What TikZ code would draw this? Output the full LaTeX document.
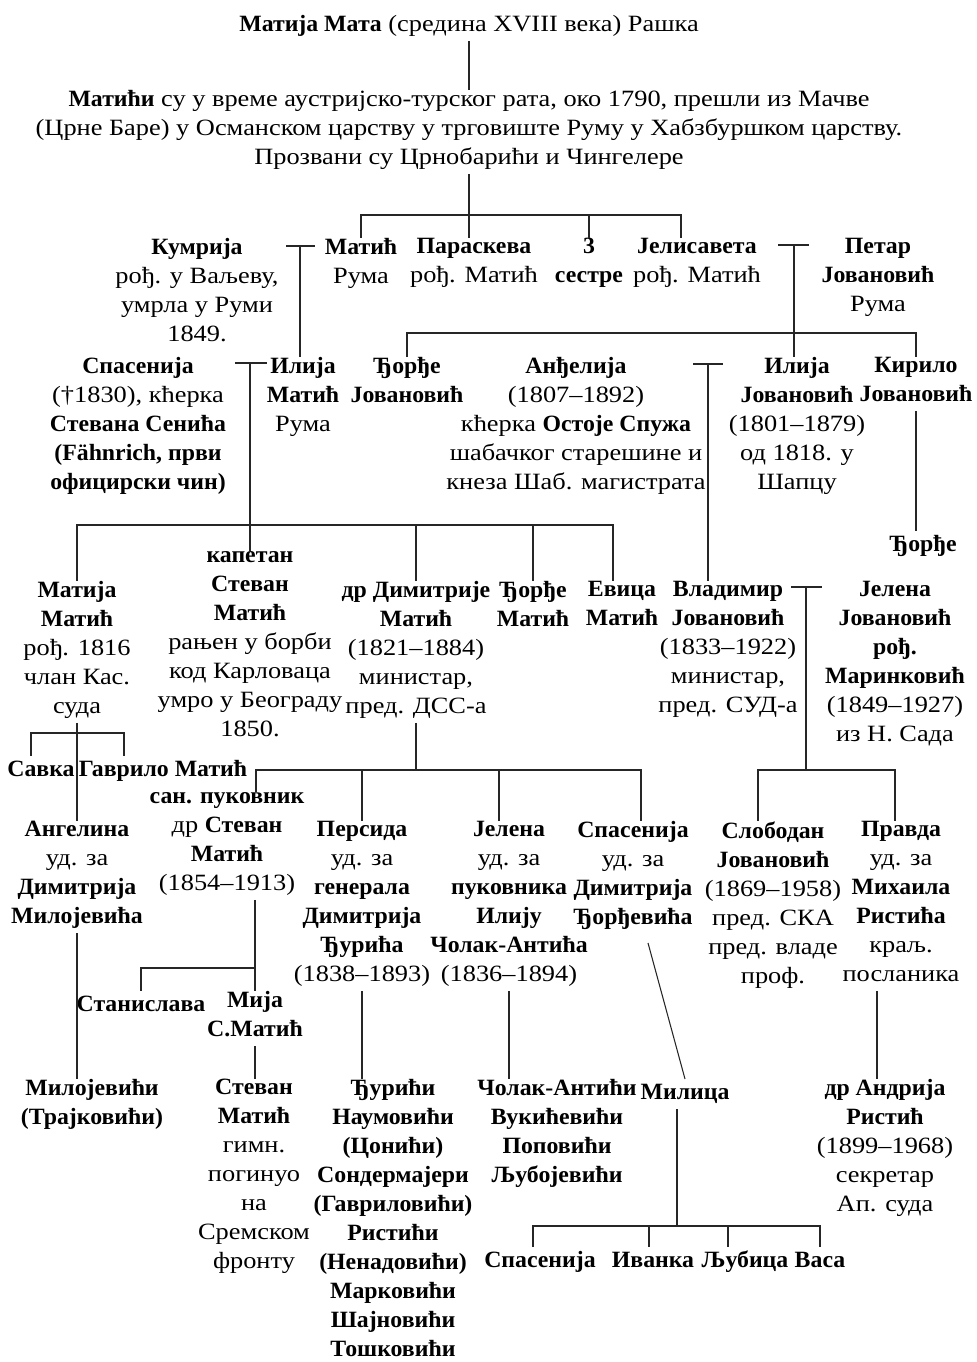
\documentclass[tikz,border=0pt]{standalone}
\usepackage{fontspec}
\setmainfont{Liberation Serif}[FakeStretch=1.13, BoldFeatures={FakeStretch=1.02}]
\newcommand{\fs}{\fontsize{17.5}{21.75}\selectfont}
\begin{document}
\begin{tikzpicture}[x=0.75pt, y=-0.75pt, line width=0.8pt, draw=black!85,
	prs/.style={align=center, anchor=north, inner sep=0pt, yshift=-3.75pt, font=\fs, execute at begin node=\strut, execute at end node=\strut}]
	\useasboundingbox (0,0) rectangle (976,1362);
	% top
	\node[prs] (mata) at (469,6) {\textbf{Матија Мата} (средина XVIII века) Рашка};
	\node[prs] (matici) at (469,85) {\textbf{Матићи} су у време аустријско-турског рата, око 1790, прешли из Мачве\\(Црне Баре) у Османском царству у трговиште Руму у Хабзбуршком царству.\\Прозвани су Црнобарићи и Чингелере};
	% row 2
	\node[prs] (kumrija) at (197,233) {\textbf{Кумрија}\\рођ. у Ваљеву,\\умрла у Руми\\1849.};
	\node[prs] (maticR) at (361,233) {\textbf{Матић}\\Рума};
	\node[prs] (paraskeva) at (474,233) {\textbf{Параскева}\\рођ. Матић};
	\node[prs] (sestre) at (589,233) {\textbf{3}\\\textbf{сестре}};
	\node[prs] (jelisaveta) at (697,233) {\textbf{Јелисавета}\\рођ. Матић};
	\node[prs] (petar) at (878,233) {\textbf{Петар}\\\textbf{Јовановић}\\Рума};
	% row 3
	\node[prs] (spasenija) at (138,352) {\textbf{Спасенија}\\(†1830), кћерка\\\textbf{Стевана Сенића}\\\textbf{(Fähnrich, први}\\\textbf{официрски чин)}};
	\node[prs] (ilija) at (303,352) {\textbf{Илија}\\\textbf{Матић}\\Рума};
	\node[prs] (djordje) at (407,352) {\textbf{Ђорђе}\\\textbf{Јовановић}};
	\node[prs] (andjelija) at (576,352) {\textbf{Анђелија}\\(1807–1892)\\кћерка \textbf{Остоје Спужа}\\шабачког старешине и\\кнеза Шаб. магистрата};
	\node[prs] (ilijaj) at (797,352) {\textbf{Илија}\\\textbf{Јовановић}\\(1801–1879)\\од 1818. у\\Шапцу};
	\node[prs] (kirilo) at (916,352) {\textbf{Кирило}\\\textbf{Јовановић}};
	\node[prs] (djordjek) at (923,526) {\textbf{Ђорђе}};
	% row 4
	\node[prs] (matija) at (77,576) {\textbf{Матија}\\\textbf{Матић}\\рођ. 1816\\члан Кас.\\суда};
	\node[prs] (stevan) at (250,546) {\textbf{капетан}\\\textbf{Стеван}\\\textbf{Матић}\\рањен у борби\\код Карловаца\\умро у Београду\\1850.};
	\node[prs] (dimitrije) at (416,576) {\textbf{др Димитрије}\\\textbf{Матић}\\(1821–1884)\\министар,\\пред. ДСС-а};
	\node[prs] (djordjem) at (533,576) {\textbf{Ђорђе}\\\textbf{Матић}};
	\node[prs] (evica) at (622,576) {\textbf{Евица}\\\textbf{Матић}};
	\node[prs] (vladimir) at (728,576) {\textbf{Владимир}\\\textbf{Јовановић}\\(1833–1922)\\министар,\\пред. СУД-а};
	\node[prs] (jelenaj) at (895,576) {\textbf{Јелена}\\\textbf{Јовановић}\\\textbf{рођ.}\\\textbf{Маринковић}\\(1849–1927)\\из Н. Сада};
	\node[prs] (savka) at (41,751) {\textbf{Савка}};
	\node[prs] (gavrilo) at (163,751) {\textbf{Гаврило Матић}};
	% row 5
	\node[prs] (angelina) at (77,816) {\textbf{Ангелина}\\уд. за\\\textbf{Димитрија}\\\textbf{Милојевића}};
	\node[prs] (stevans) at (227,787) {\textbf{сан. пуковник}\\др \textbf{Стеван}\\\textbf{Матић}\\(1854–1913)};
	\node[prs] (persida) at (362,816) {\textbf{Персида}\\уд. за\\\textbf{генерала}\\\textbf{Димитрија}\\\textbf{Ђурића}\\(1838–1893)};
	\node[prs] (jelenam) at (509,816) {\textbf{Јелена}\\уд. за\\\textbf{пуковника}\\\textbf{Илију}\\\textbf{Чолак-Антића}\\(1836–1894)};
	\node[prs] (spasenijad) at (633,816) {\textbf{Спасенија}\\уд. за\\\textbf{Димитрија}\\\textbf{Ђорђевића}};
	\node[prs] (slobodan) at (773,816) {\textbf{Слободан}\\\textbf{Јовановић}\\(1869–1958)\\пред. СКА\\пред. владе\\проф.};
	\node[prs] (pravda) at (901,816) {\textbf{Правда}\\уд. за\\\textbf{Михаила}\\\textbf{Ристића}\\краљ.\\посланика};
	\node[prs] (stanislava) at (141,986) {\textbf{Станислава}};
	\node[prs] (mija) at (255,986) {\textbf{Мија}\\\textbf{С.Матић}};
	% row 6
	\node[prs] (milojevici) at (92,1074) {\textbf{Милојевићи}\\\textbf{(Трајковићи)}};
	\node[prs] (stevang) at (254,1074) {\textbf{Стеван}\\\textbf{Матић}\\гимн.\\погинуо\\на\\Сремском\\фронту};
	\node[prs] (djurici) at (393,1074) {\textbf{Ђурићи}\\\textbf{Наумовићи}\\\textbf{(Цонићи)}\\\textbf{Сондермајери}\\\textbf{(Гавриловићи)}\\\textbf{Ристићи}\\\textbf{(Ненадовићи)}\\\textbf{Марковићи}\\\textbf{Шајновићи}\\\textbf{Тошковићи}};
	\node[prs] (colak) at (557,1074) {\textbf{Чолак-Антићи}\\\textbf{Вукићевићи}\\\textbf{Поповићи}\\\textbf{Љубојевићи}};
	\node[prs] (milica) at (685,1074) {\textbf{Милица}};
	\node[prs] (andrija) at (885,1074) {\textbf{др Андрија}\\\textbf{Ристић}\\(1899–1968)\\секретар\\Ап. суда};
	\node[prs] (spas2) at (540,1242) {\textbf{Спасенија}};
	\node[prs] (ivanka) at (653,1242) {\textbf{Иванка}};
	\node[prs] (ljubica) at (745,1242) {\textbf{Љубица}};
	\node[prs] (vasa) at (820,1242) {\textbf{Васа}};
	% junctions
	\coordinate (b1) at (469,215);
	\coordinate (b1e) at (681,215);
	\coordinate (m1) at (300,246);
	\coordinate (m2) at (794,245);
	\coordinate (b2) at (794,333);
	\coordinate (m3) at (250,363);
	\coordinate (b3) at (250,525);
	\coordinate (b3e) at (613,525);
	\coordinate (m4) at (708,364);
	\coordinate (b5a) at (31,733);
	\coordinate (b5b) at (124,733);
	\coordinate (b6a) at (256,770);
	\coordinate (b6b) at (641,770);
	\coordinate (b6c) at (499,770);
	\coordinate (m5) at (806,587);
	\coordinate (b7) at (806,770);
	\coordinate (b7a) at (758,770);
	\coordinate (b7b) at (895,770);
	\coordinate (b8) at (255,968);
	\coordinate (r9) at (877,0);
	\coordinate (b10) at (677,1226);
	\coordinate (b10a) at (533,1226);
	\coordinate (b10b) at (820,1226);
	\coordinate (b10c) at (649,1226);
	\coordinate (b10d) at (728,1226);
	% lines
	\draw (mata) -- (matici);
	\draw (matici.south) -- (matici.south |- paraskeva.north);
	\draw (maticR.north) |- (b1e) -- (b1e |- jelisaveta.north);
	\draw (sestre.north) -- (sestre.north |- b1);
	\draw (m1) ++(-14,0) -- ++(29,0);
	\draw (m1) -- (m1 |- ilija.north);
	\draw (m2) ++(-16,0) -- ++(31,0);
	\draw (m2) -- (m2 |- ilijaj.north);
	\draw (djordje.north) |- (b2) -| (kirilo.north);
	\draw (m3) ++(-15,0) -- ++(32,0);
	\draw (m3) -- (m3 |- stevan.north);
	\draw (matija.north) |- (b3e) -- (b3e |- evica.north);
	\draw (dimitrije.north) -- (dimitrije.north |- b3);
	\draw (djordjem.north) -- (djordjem.north |- b3);
	\draw (m4) ++(-15,0) -- ++(30,0);
	\draw (m4) -- (m4 |- vladimir.north);
	\draw (kirilo.south) -- (kirilo.south |- djordjek.north);
	\draw (matija.south) -- (matija.south |- angelina.north);
	\draw (b5a |- savka.north) -- (b5a) -- (b5b) -- (b5b |- gavrilo.north);
	\draw (dimitrije.south) -- (dimitrije.south |- b6a);
	\draw (b6a |- stevans.north) -- (b6a) -- (b6b) -- (b6b |- spasenijad.north);
	\draw (persida.north) -- (persida.north |- b6a);
	\draw (b6c) -- (b6c |- jelenam.north);
	\draw (m5) ++(-15,0) -- ++(31,0);
	\draw (m5) -- (b7);
	\draw (b7a |- slobodan.north) -- (b7a) -- (b7b) -- (b7b |- pravda.north);
	\draw (b8 |- stevans.south) -- (b8 |- mija.north);
	\draw (b8) -| (stanislava.north);
	\draw (mija.south) -- (mija.south |- stevang.north);
	\draw (angelina.south) -- (angelina.south |- milojevici.north);
	\draw (persida.south) -- (persida.south |- djurici.north);
	\draw (jelenam.south) -- (jelenam.south |- colak.north);
	\draw (spasenijad.south) ++(15,9) -- (milica.north);
	\draw (pravda.south -| r9) -- (andrija.north -| r9);
	\draw (milica.south -| b10) -- (b10);
	\draw (b10a |- spas2.north) -- (b10a) -- (b10b) -- (b10b |- vasa.north);
	\draw (b10c) -- (b10c |- ivanka.north);
	\draw (b10d) -- (b10d |- ljubica.north);
\end{tikzpicture}
\end{document}
